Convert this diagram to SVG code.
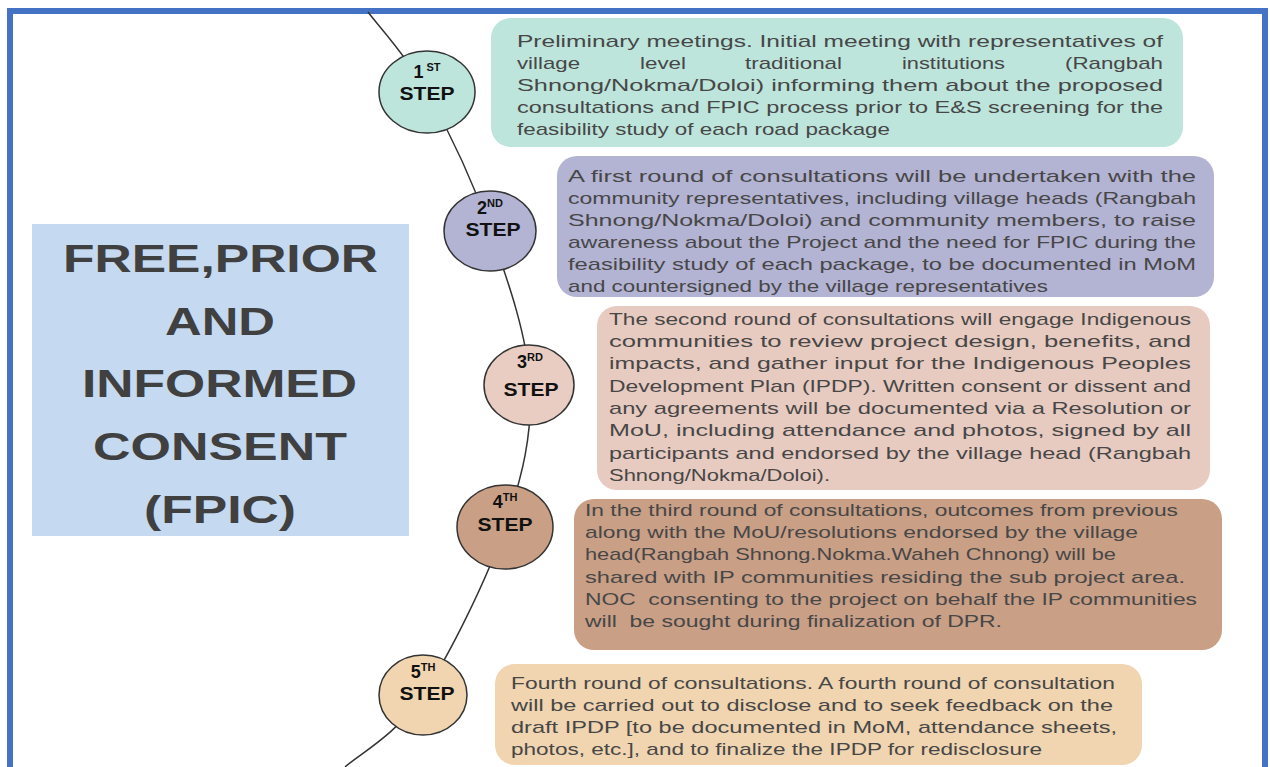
<svg xmlns="http://www.w3.org/2000/svg" width="1270" height="767" viewBox="0 0 1270 767">
<style>
.body{font-family:"Liberation Sans",Arial,sans-serif;font-size:17px;fill:#474747}
.title{font-family:"Liberation Sans",Arial,sans-serif;font-size:39px;font-weight:bold;fill:#404040}
.step{font-family:"Liberation Sans",Arial,sans-serif;font-size:18px;font-weight:bold;fill:#111;text-anchor:middle}
.sup{font-size:11px}
.circ{stroke:#333;stroke-width:1.5}
.conn{fill:none;stroke:#333;stroke-width:1.5}
</style>
<rect x="0" y="0" width="1270" height="767" fill="#ffffff"/>
<rect id="frame" x="10" y="11" width="1255" height="800" fill="none" stroke="#4472c4" stroke-width="6"/>

<g id="title">
<rect x="32" y="224" width="377" height="312" fill="#c5d9f1"/>
<text class="title" x="63" y="272" textLength="315" lengthAdjust="spacingAndGlyphs">FREE,PRIOR</text>
<text class="title" x="165" y="335" textLength="110" lengthAdjust="spacingAndGlyphs">AND</text>
<text class="title" x="82" y="397" textLength="275" lengthAdjust="spacingAndGlyphs">INFORMED</text>
<text class="title" x="93" y="460" textLength="254" lengthAdjust="spacingAndGlyphs">CONSENT</text>
<text class="title" x="144" y="523" textLength="152" lengthAdjust="spacingAndGlyphs">(FPIC)</text>
</g>

<g id="connectors">
<path class="conn" d="M368,12 C377.8,25.3 406.7,55.7 427,92 C447.3,128.3 472.8,181.2 490,230 C507.2,278.8 527.5,335.5 530,385 C532.5,434.5 522.8,475.3 505,527 C487.2,578.7 449.7,655 423,695 C396.3,735 358,755 345,767"/>
</g>

<g id="step1">
<ellipse class="circ" cx="427" cy="92" rx="48" ry="41" fill="#bde5dc"/>
<text class="step" x="427" y="78">1<tspan class="sup" dy="-7"> ST</tspan></text>
<text class="step" x="427" y="100" textLength="55" lengthAdjust="spacingAndGlyphs">STEP</text>
</g>
<g id="step2">
<ellipse class="circ" cx="490" cy="231" rx="46" ry="40" fill="#b3b3d3"/>
<text class="step" x="490" y="214">2<tspan class="sup" dy="-7">ND</tspan></text>
<text class="step" x="493" y="236" textLength="55" lengthAdjust="spacingAndGlyphs">STEP</text>
</g>
<g id="step3">
<ellipse class="circ" cx="529" cy="385" rx="45" ry="40" fill="#eacdc2"/>
<text class="step" x="530" y="368">3<tspan class="sup" dy="-7">RD</tspan></text>
<text class="step" x="531" y="396" textLength="55" lengthAdjust="spacingAndGlyphs">STEP</text>
</g>
<g id="step4">
<ellipse class="circ" cx="505" cy="527" rx="48" ry="42" fill="#c99f86"/>
<text class="step" x="505" y="508">4<tspan class="sup" dy="-7">TH</tspan></text>
<text class="step" x="505" y="531" textLength="55" lengthAdjust="spacingAndGlyphs">STEP</text>
</g>
<g id="step5">
<ellipse class="circ" cx="423" cy="695" rx="44" ry="40" fill="#f0d5b0"/>
<text class="step" x="423" y="678">5<tspan class="sup" dy="-7">TH</tspan></text>
<text class="step" x="427" y="700" textLength="55" lengthAdjust="spacingAndGlyphs">STEP</text>
</g>

<g id="box1">
<rect x="491" y="18" width="692" height="129" rx="20" fill="#bde5dc"/>
<text class="body" x="517" y="47" textLength="646" lengthAdjust="spacingAndGlyphs">Preliminary meetings. Initial meeting with representatives of</text>
<text class="body" x="517" y="69" textLength="63" lengthAdjust="spacingAndGlyphs">village</text>
<text class="body" x="640" y="69" textLength="46" lengthAdjust="spacingAndGlyphs">level</text>
<text class="body" x="745" y="69" textLength="97" lengthAdjust="spacingAndGlyphs">traditional</text>
<text class="body" x="902" y="69" textLength="103" lengthAdjust="spacingAndGlyphs">institutions</text>
<text class="body" x="1065" y="69" textLength="98" lengthAdjust="spacingAndGlyphs">(Rangbah</text>
<text class="body" x="517" y="91" textLength="646" lengthAdjust="spacingAndGlyphs">Shnong/Nokma/Doloi) informing them about the proposed</text>
<text class="body" x="517" y="113" textLength="646" lengthAdjust="spacingAndGlyphs">consultations and FPIC process prior to E&amp;S screening for the</text>
<text class="body" x="517" y="135" textLength="373" lengthAdjust="spacingAndGlyphs">feasibility study of each road package</text>
</g>

<g id="box2">
<rect x="557" y="156" width="657" height="141" rx="20" fill="#b3b3d3"/>
<text class="body" x="568" y="182" textLength="628" lengthAdjust="spacingAndGlyphs">A first round of consultations will be undertaken with the</text>
<text class="body" x="568" y="204" textLength="628" lengthAdjust="spacingAndGlyphs">community representatives, including village heads (Rangbah</text>
<text class="body" x="568" y="226" textLength="628" lengthAdjust="spacingAndGlyphs">Shnong/Nokma/Doloi) and community members, to raise</text>
<text class="body" x="568" y="248" textLength="628" lengthAdjust="spacingAndGlyphs">awareness about the Project and the need for FPIC during the</text>
<text class="body" x="568" y="270" textLength="628" lengthAdjust="spacingAndGlyphs">feasibility study of each package, to be documented in MoM</text>
<text class="body" x="568" y="292" textLength="480" lengthAdjust="spacingAndGlyphs">and countersigned by the village representatives</text>
</g>

<g id="box3">
<rect x="597" y="306" width="613" height="184" rx="20" fill="#e8cbc0"/>
<text class="body" x="609" y="325" textLength="582" lengthAdjust="spacingAndGlyphs">The second round of consultations will engage Indigenous</text>
<text class="body" x="609" y="347" textLength="582" lengthAdjust="spacingAndGlyphs">communities to review project design, benefits, and</text>
<text class="body" x="609" y="369" textLength="582" lengthAdjust="spacingAndGlyphs">impacts, and gather input for the Indigenous Peoples</text>
<text class="body" x="609" y="392" textLength="582" lengthAdjust="spacingAndGlyphs">Development Plan (IPDP). Written consent or dissent and</text>
<text class="body" x="609" y="414" textLength="582" lengthAdjust="spacingAndGlyphs">any agreements will be documented via a Resolution or</text>
<text class="body" x="609" y="436" textLength="582" lengthAdjust="spacingAndGlyphs">MoU, including attendance and photos, signed by all</text>
<text class="body" x="609" y="459" textLength="582" lengthAdjust="spacingAndGlyphs">participants and endorsed by the village head (Rangbah</text>
<text class="body" x="609" y="481" textLength="221" lengthAdjust="spacingAndGlyphs">Shnong/Nokma/Doloi).</text>
</g>

<g id="box4">
<rect x="574" y="499" width="648" height="151" rx="20" fill="#c99f86"/>
<text class="body" x="585" y="516" textLength="593" lengthAdjust="spacingAndGlyphs">In the third round of consultations, outcomes from previous</text>
<text class="body" x="585" y="538" textLength="553" lengthAdjust="spacingAndGlyphs">along with the MoU/resolutions endorsed by the village</text>
<text class="body" x="585" y="560" textLength="531" lengthAdjust="spacingAndGlyphs">head(Rangbah Shnong.Nokma.Waheh Chnong) will be</text>
<text class="body" x="585" y="583" textLength="600" lengthAdjust="spacingAndGlyphs">shared with IP communities residing the sub project area.</text>
<text class="body" x="585" y="605" textLength="612" lengthAdjust="spacingAndGlyphs">NOC&#160; consenting to the project on behalf the IP communities</text>
<text class="body" x="585" y="627" textLength="417" lengthAdjust="spacingAndGlyphs">will&#160; be sought during finalization of DPR.</text>
</g>

<g id="box5">
<rect x="495" y="664" width="647" height="101" rx="20" fill="#f0d5b0"/>
<text class="body" x="511" y="689" textLength="604" lengthAdjust="spacingAndGlyphs">Fourth round of consultations. A fourth round of consultation</text>
<text class="body" x="511" y="711" textLength="602" lengthAdjust="spacingAndGlyphs">will be carried out to disclose and to seek feedback on the</text>
<text class="body" x="511" y="733" textLength="606" lengthAdjust="spacingAndGlyphs">draft IPDP [to be documented in MoM, attendance sheets,</text>
<text class="body" x="511" y="755" textLength="531" lengthAdjust="spacingAndGlyphs">photos, etc.], and to finalize the IPDP for redisclosure</text>
</g>
</svg>
